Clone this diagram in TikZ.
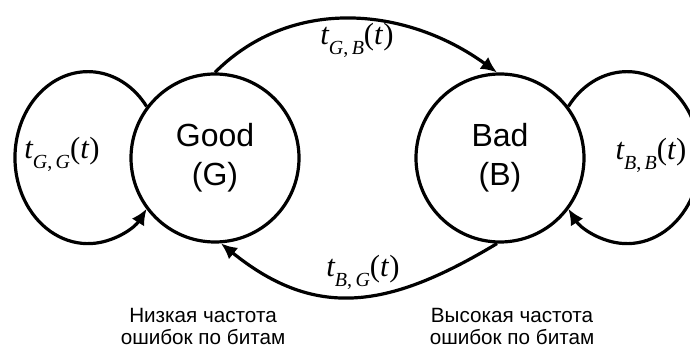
\documentclass[tikz,border=0pt]{standalone}
\usepackage{fontspec}
\setmainfont{Liberation Sans}
\newfontfamily\timesfont{Liberation Serif}
\usetikzlibrary{arrows.meta}

% transition label t_{X,Y}(t) in a Times-like face
\newcommand{\trate}[2]{{\timesfont\itshape t\raisebox{-0.32em}{\fontsize{15}{15}\selectfont #1\upshape,\itshape\,#2}\upshape(\itshape t\/\upshape)}}

\begin{document}
\begin{tikzpicture}[x=0.75pt,y=0.75pt,>={Latex[length=12pt,width=11pt]},
  state/.style={circle,draw,line width=2.4pt,minimum size=126pt,inner sep=0pt,
    align=center,font=\fontsize{24}{29}\selectfont},
  trans/.style={line width=2.4pt},
  ratelbl/.style={font=\fontsize{23}{23}\selectfont},
  note/.style={align=center,font=\fontsize{15.5}{16.5}\selectfont}]
  \useasboundingbox (0,0) rectangle (690,347);
  % states
  \node[state] (good) at (215,189) {Good\\(G)};
  \node[state] (bad) at (500,189) {Bad\\(B)};
  % transitions
  \draw[trans,->] (good.90) to[out=45,in=144] (bad.92);
  \draw[trans,->] (bad.268) to[out=211,in=321,looseness=1.15] (good.274);
  \draw[trans,->] (good.143) arc[start angle=36.5,end angle=323.5,x radius=73,y radius=86];
  \draw[trans,->] (bad.37) arc[start angle=143.5,end angle=-143.5,x radius=73,y radius=86];
  % rates
  \node[ratelbl] (lblGB) at (357,307) {\trate{G}{B}};
  \node[ratelbl] (lblBG) at (363,75) {\trate{B}{G}};
  \node[ratelbl] (lblGG) at (62,193) {\trate{G}{G}};
  \node[ratelbl] (lblBB) at (651,192) {\trate{B}{B}};
  % error rates
  \node[note] (lowber) at (203,21) {Низкая частота\\ошибок по битам};
  \node[note] (highber) at (512,21) {Высокая частота\\ошибок по битам};
\end{tikzpicture}
\end{document}
